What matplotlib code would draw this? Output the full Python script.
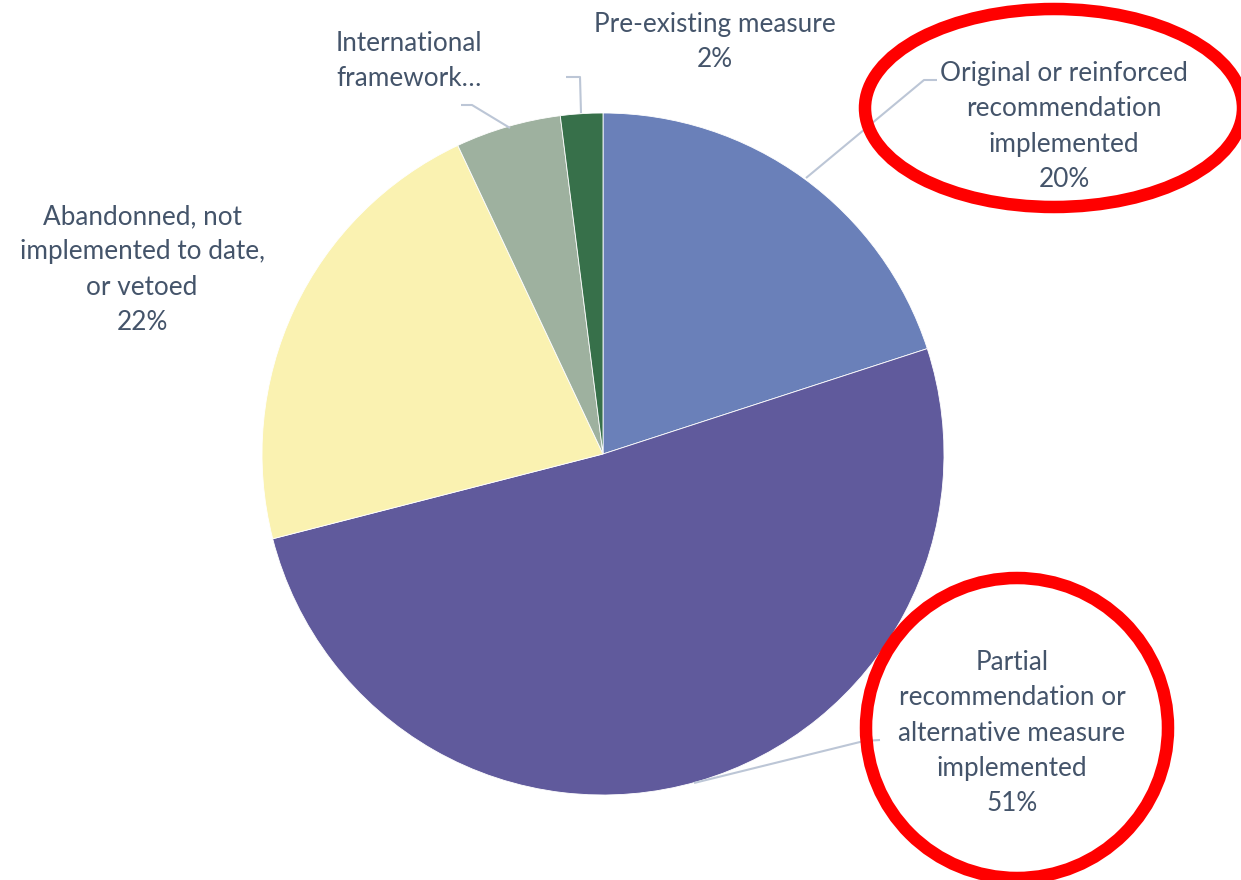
import matplotlib
matplotlib.use("Agg")
import matplotlib.pyplot as plt
from matplotlib.patches import Ellipse

# Share of recommendations by implementation status (%)
categories = [
    "Original or reinforced\nrecommendation\nimplemented",
    "Partial\nrecommendation or\nalternative measure\nimplemented",
    "Abandonned, not\nimplemented to date,\nor vetoed",
    "International\nframework…",
    "Pre-existing measure",
]
values = [20, 51, 22, 5, 2]
show_pct = [True, True, True, False, True]
colors = ["#6a80b9", "#605a9c", "#faf2b1", "#9eb19f", "#37704a"]

W, H = 1241, 880
fig = plt.figure(figsize=(W / 100, H / 100), dpi=100)
ax = fig.add_axes([0, 0, 1, 1])

def Y(y):
    # pixel row (top-down) -> data y (bottom-up)
    return H - y

cx, cy, r = 603, Y(454), 341
ax.pie(values, colors=colors, startangle=90, counterclock=False,
       center=(cx, cy), radius=r, frame=True,
       wedgeprops=dict(linewidth=0.6, edgecolor="white"))
ax.set_xlim(0, W)
ax.set_ylim(0, H)
ax.set_aspect("equal")
ax.axis("off")

text_color = "#44546a"
line_color = "#bcc6d6"
font = dict(family=["Lato", "DejaVu Sans"], fontsize=18.8, color=text_color,
            linespacing=1.515)

def label(i, x, y, ha="center"):
    txt = categories[i]
    if show_pct[i]:
        txt += f"\n{values[i]}%"
    ax.text(x, Y(y), txt, ha=ha, va="top", multialignment=ha, **font)

label(0, 1064, 61)
label(1, 1012, 650)
label(2, 142, 204)
label(3, 336, 31, ha="left")
label(4, 715, 12)

def leader(points):
    xs = [p[0] for p in points]
    ys = [Y(p[1]) for p in points]
    ax.plot(xs, ys, color=line_color, lw=1.5, solid_capstyle="butt", zorder=1)

leader([(937, 80), (924, 80), (806, 178)])
leader([(880, 740), (864, 741), (694, 783)])
leader([(461, 105), (472, 105), (510, 128)])
leader([(566, 77), (580, 77), (581, 113)])

# red highlight ellipses
ax.add_patch(Ellipse((1054, Y(108)), 378, 198, fill=False,
                     edgecolor="#ff0000", lw=9, zorder=5))
ax.add_patch(Ellipse((1017, Y(728)), 302, 300, fill=False,
                     edgecolor="#ff0000", lw=9, zorder=5))

fig.savefig("out.png", dpi=100, facecolor="white")
